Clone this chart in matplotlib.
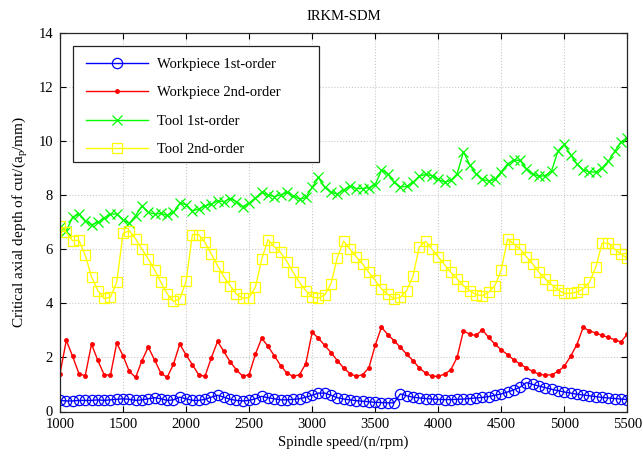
import numpy as np
import matplotlib
matplotlib.use("Agg")
import matplotlib.pyplot as plt
from matplotlib.patches import Rectangle

rpm = np.arange(1000, 5501, 50)

workpiece_1st = [
    0.41, 0.39, 0.39, 0.41, 0.41, 0.41, 0.43, 0.41, 0.43, 0.45,
    0.47, 0.45, 0.41, 0.43, 0.47, 0.51, 0.47, 0.41, 0.43, 0.53,
    0.47, 0.41, 0.41, 0.45, 0.53, 0.60, 0.53, 0.45, 0.41, 0.39,
    0.41, 0.47, 0.56, 0.51, 0.47, 0.43, 0.43, 0.45, 0.47, 0.53,
    0.60, 0.68, 0.68, 0.60, 0.51, 0.46, 0.43, 0.40, 0.38, 0.36,
    0.34, 0.33, 0.32, 0.32, 0.65, 0.58, 0.53, 0.50, 0.48, 0.46,
    0.45, 0.44, 0.44, 0.45, 0.46, 0.48, 0.50, 0.52, 0.55, 0.60,
    0.65, 0.72, 0.80, 0.90, 1.07, 1.00, 0.94, 0.88, 0.82, 0.77,
    0.72, 0.68, 0.64, 0.61, 0.58, 0.55, 0.52, 0.50, 0.48, 0.46,
    0.44]

workpiece_2nd = [
    1.40, 2.63, 2.04, 1.40, 1.32, 2.49, 1.89, 1.36, 1.34, 2.53,
    2.06, 1.48, 1.26, 1.88, 2.38, 1.91, 1.42, 1.26, 1.75, 2.49,
    2.09, 1.73, 1.36, 1.30, 1.98, 2.59, 2.22, 1.83, 1.54, 1.30,
    1.36, 2.12, 2.71, 2.41, 2.06, 1.70, 1.42, 1.30, 1.36, 1.77,
    2.93, 2.71, 2.44, 2.18, 1.88, 1.61, 1.40, 1.30, 1.36, 1.61,
    2.44, 3.12, 2.84, 2.62, 2.37, 2.12, 1.88, 1.61, 1.42, 1.30,
    1.30, 1.38, 1.54, 2.00, 2.98, 2.86, 2.81, 3.02, 2.74, 2.49,
    2.28, 2.10, 1.91, 1.75, 1.61, 1.48, 1.38, 1.34, 1.36, 1.48,
    1.67, 2.04, 2.47, 3.11, 2.98, 2.90, 2.81, 2.74, 2.65, 2.57,
    2.86]

tool_1st = [
    6.82, 6.68, 7.18, 7.30, 7.05, 6.90, 6.99, 7.15, 7.30, 7.30,
    7.08, 6.95, 7.24, 7.60, 7.36, 7.30, 7.32, 7.25, 7.36, 7.69,
    7.65, 7.42, 7.48, 7.60, 7.66, 7.79, 7.75, 7.87, 7.76, 7.57,
    7.70, 7.89, 8.10, 8.01, 7.94, 8.01, 8.10, 7.98, 7.85, 7.91,
    8.28, 8.65, 8.28, 8.10, 8.04, 8.19, 8.33, 8.24, 8.24, 8.27,
    8.38, 8.92, 8.79, 8.47, 8.30, 8.32, 8.47, 8.70, 8.76, 8.72,
    8.58, 8.48, 8.54, 8.78, 9.60, 9.12, 8.78, 8.58, 8.52, 8.58,
    8.86, 9.15, 9.29, 9.28, 8.97, 8.78, 8.69, 8.72, 8.90, 9.63,
    9.87, 9.49, 9.15, 8.93, 8.85, 8.85, 9.00, 9.25, 9.61, 9.97,
    10.10]

tool_2nd = [
    6.85, 6.62, 6.31, 6.33, 5.78, 4.98, 4.47, 4.18, 4.22, 4.78,
    6.58, 6.68, 6.38, 6.00, 5.64, 5.24, 4.78, 4.35, 4.07, 4.16,
    4.81, 6.54, 6.54, 6.25, 5.82, 5.39, 4.98, 4.65, 4.33, 4.19,
    4.21, 4.60, 5.63, 6.35, 6.09, 5.88, 5.54, 5.14, 4.77, 4.46,
    4.23, 4.19, 4.31, 4.73, 5.69, 6.30, 6.00, 5.72, 5.45, 5.14,
    4.85, 4.53, 4.33, 4.17, 4.22, 4.47, 5.00, 6.08, 6.29, 6.00,
    5.72, 5.43, 5.14, 4.90, 4.65, 4.47, 4.32, 4.28, 4.41, 4.65,
    5.23, 6.38, 6.19, 6.00, 5.72, 5.45, 5.14, 4.90, 4.69, 4.49,
    4.37, 4.37, 4.41, 4.53, 4.78, 5.33, 6.22, 6.22, 6.00, 5.82,
    5.67]

labels = ["Workpiece 1st-order", "Workpiece 2nd-order", "Tool 1st-order", "Tool 2nd-order"]
x_ticks = [1000, 1500, 2000, 2500, 3000, 3500, 4000, 4500, 5000, 5500]
y_ticks = [0, 2, 4, 6, 8, 10, 12, 14]

plt.rcParams['font.family'] = ['Liberation Serif', 'DejaVu Serif']
plt.rcParams['mathtext.fontset'] = 'custom'
plt.rcParams['mathtext.rm'] = 'Liberation Serif'
plt.rcParams['mathtext.it'] = 'Liberation Serif:italic'

fig = plt.figure(figsize=(6.43, 4.59), dpi=100)
ax = fig.add_axes([60/643, 1-411.5/459, (627.3-60)/643, (411.5-32.7)/459])

ax.plot(rpm, workpiece_1st, color=(0, 0, 1), lw=1.0, marker='o', ms=7.4,
        mfc='none', mec=(0, 0, 1), mew=0.9, label=labels[0])
ax.plot(rpm, workpiece_2nd, color=(1, 0, 0), lw=1.0, marker='.', ms=5,
        mfc=(1, 0, 0), mec=(1, 0, 0), label=labels[1])
ax.plot(rpm, tool_1st, color=(0, 1, 0), lw=1.0, marker='x', ms=6.5,
        mew=0.9, label=labels[2])
ax.plot(rpm, tool_2nd, color=(1, 1, 0), lw=1.0, marker='s', ms=6.8,
        mfc='none', mec=(1, 1, 0), mew=0.9, label=labels[3])

ax.set_xlim(1000, 5500)
ax.set_ylim(0, 14)
ax.set_xticks(x_ticks)
ax.set_yticks(y_ticks)
ax.tick_params(direction='in', length=4, width=0.8, top=True, right=True,
               labelsize=10.5, pad=5)
ax.grid(True, linestyle=':', color='#c8c8c8', linewidth=0.8)
for s in ax.spines.values():
    s.set_linewidth(0.9)
    s.set_color('#262626')

ax.set_title("IRKM-SDM", fontsize=10.5, pad=9)
ax.set_xlabel("Spindle speed/(n/rpm)", fontsize=10.5, labelpad=3)
ax.set_ylabel(r"Critical axial depth of cut/(a$_\mathregular{p}$/mm)", fontsize=11, labelpad=6)

# legend box (MATLAB style, extra right padding)
box = Rectangle((0.0224, 0.6594), 0.4571 - 0.0224, 0.9649 - 0.6594,
                transform=ax.transAxes, facecolor='white', edgecolor='#222222',
                linewidth=0.9, zorder=4.9)
ax.add_patch(box)
leg = ax.legend(loc='upper left', bbox_to_anchor=(0.0458, 0.9345),
                borderaxespad=0, borderpad=0, fontsize=10.5, frameon=False,
                handlelength=4.25, handletextpad=0.6, labelspacing=1.05)
leg.set_zorder(5)

fig.savefig("out.png", dpi=100)
